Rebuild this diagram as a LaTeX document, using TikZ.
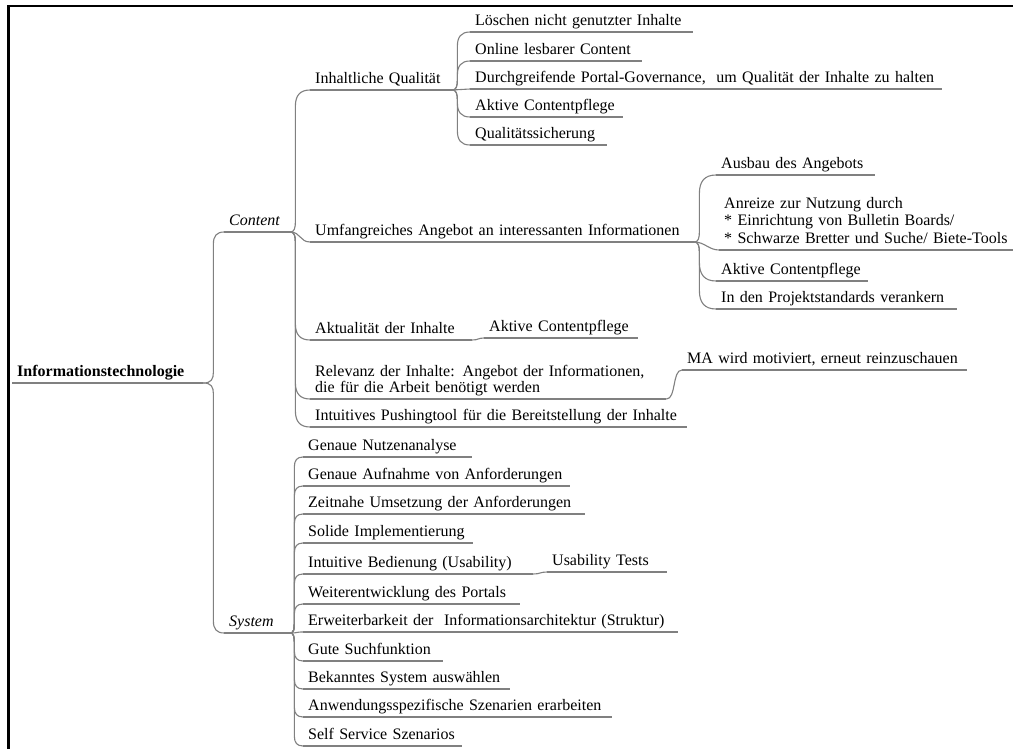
\documentclass[tikz,border=0pt]{standalone}
\usepackage{fontspec}
\setmainfont{Liberation Serif}
\usetikzlibrary{calc}
\definecolor{lineg}{RGB}{128,128,128}
\newcommand\mmfont{\fontsize{16}{18}\selectfont}
% [options]{name}{start x}{underline y}{end x}{text}
\newcommand\mmn[6][]{\pgfmathsetmacro\mmw{#5-#3-10}\node[mm,text width=\mmw pt,#1] (#2) at (#3,#4) {\mbox{#6}};}
\begin{document}
\begin{tikzpicture}[x=1pt,y=-1pt,
  mm/.style={anchor=south west,inner xsep=5pt,inner ysep=2.5pt,text depth=4pt,align=left,font=\mmfont},
  uline/.style={draw=lineg,line width=1.1pt},
  conn/.style={draw=lineg,line width=1.1pt,line cap=round},
  br/.style={to path={let \p1=(\tikztostart),\p2=(\tikztotarget),\n1={ifthenelse(\y2>\y1,1,-1)} in
     (\p1) .. controls ({\x1+0.8*#1},\y1) and ({\x1+#1},{\y1+\n1*4pt}) .. ({\x1+#1},{\y1+\n1*11pt})
     -- ({\x1+#1},{\y2-\n1*1.1*(\x2-\x1-#1)})
     .. controls ({\x1+#1},{\y2-\n1*0.4*(\x2-\x1-#1)}) and ({\x1+#1+0.3*(\x2-\x1-#1)},\y2) .. (\p2)}},
  br/.default=5pt,
  sc/.style={to path={(\tikztostart) .. controls +(#1,0) and +(-#1,0) .. (\tikztotarget)}},
  sc/.default=8,
]
\useasboundingbox (0,0) rectangle (1013,749);
\clip (0,0) rectangle (1013,749);
\fill[white] (0,0) rectangle (1013,749);

% root and main branches
\mmn[font=\mmfont\bfseries]{root}{12}{383}{203}{Informationstechnologie}
\mmn[font=\mmfont\itshape]{content}{224}{232}{290}{Content}
\mmn[font=\mmfont\itshape]{system}{224}{633}{290}{System}

% Content children
\mmn{inh}{310}{90}{452}{Inhaltliche Qualität}
\mmn{umf}{310}{242}{694}{Umfangreiches Angebot an interessanten Informationen}
\mmn{akt}{310}{340}{472}{Aktualität der Inhalte}
\node[mm,text width=346pt,text depth={},font=\fontsize{16}{15.5}\selectfont] (rel) at (310,399)
  {\mbox{Relevanz der Inhalte: Angebot der Informationen,}\\\mbox{die für die Arbeit benötigt werden}\rule[-4pt]{0pt}{4pt}};
\mmn{pus}{310}{427}{687}{Intuitives Pushingtool für die Bereitstellung der Inhalte}

% Inhaltliche Qualitaet children
\mmn{la}{470}{32}{693}{Löschen nicht genutzter Inhalte}
\mmn{lb}{470}{61}{642}{Online lesbarer Content}
\mmn{lc}{470}{89}{942}{Durchgreifende Portal-Governance,\ \ um Qualität der Inhalte zu halten}
\mmn{ld}{470}{117}{623}{Aktive Contentpflege}
\mmn{le}{470}{145}{607}{Qualitätssicherung}

% Umfangreiches Angebot children
\mmn{ua}{716}{175}{875}{Ausbau des Angebots}
\node[mm,text width=300pt,text depth={},font=\fontsize{16}{17.5}\selectfont] (ub) at (719,250)
  {\mbox{Anreize zur Nutzung durch}\\\mbox{* Einrichtung von Bulletin Boards/}\\\mbox{* Schwarze Bretter und Suche/ Biete-Tools}\rule[-4pt]{0pt}{4pt}};
\mmn{uc}{716}{281}{868}{Aktive Contentpflege}
\mmn{ud}{716}{309}{957}{In den Projektstandards verankern}

% Aktualitaet / Relevanz children
\mmn{aka}{484}{338}{638}{Aktive Contentpflege}
\mmn{mot}{682}{370}{967}{MA wird motiviert, erneut reinzuschauen}

% System children
\mmn{s1}{303}{457}{472}{Genaue Nutzenanalyse}
\mmn{s2}{303}{486}{570}{Genaue Aufnahme von Anforderungen}
\mmn{s3}{303}{514}{585}{Zeitnahe Umsetzung der Anforderungen}
\mmn{s4}{303}{543}{473}{Solide Implementierung}
\mmn{s5}{303}{574}{533}{Intuitive Bedienung (Usability)}
\mmn{s6}{303}{604}{520}{Weiterentwicklung des Portals}
\mmn{s7}{303}{632}{678}{Erweiterbarkeit der\ \ Informationsarchitektur (Struktur)}
\mmn{s8}{303}{661}{443}{Gute Suchfunktion}
\mmn{s9}{303}{689}{510}{Bekanntes System auswählen}
\mmn{s10}{303}{717}{612}{Anwendungsspezifische Szenarien erarbeiten}
\mmn{s11}{303}{746}{462}{Self Service Szenarios}
\mmn{s5a}{547}{572}{667}{Usability Tests}

% underlines
\foreach \n in {root,content,system,inh,umf,akt,rel,pus,la,lb,lc,ld,le,ua,ub,uc,ud,aka,mot,
                s1,s2,s3,s4,s5,s6,s7,s8,s9,s10,s11,s5a}
  \draw[uline] (\n.south west) -- (\n.south east);

% connectors
\draw[conn] (root.south east) to[br=10pt] (content.south west);
\draw[conn] (root.south east) to[br=10pt] (system.south west);

\draw[conn] (content.south east) to[br] (inh.south west);
\draw[conn] (content.south east) to[sc=10] (umf.south west);
\draw[conn] (content.south east) to[br] (akt.south west);
\draw[conn] (content.south east) to[br] (rel.south west);
\draw[conn] (content.south east) to[br] (pus.south west);

\draw[conn] (inh.south east) to[br] (la.south west);
\draw[conn] (inh.south east) to[br] (lb.south west);
\draw[conn] (inh.south east) to[sc] (lc.south west);
\draw[conn] (inh.south east) to[br] (ld.south west);
\draw[conn] (inh.south east) to[br] (le.south west);

\draw[conn] (umf.south east) to[br] (ua.south west);
\draw[conn] (umf.south east) to[sc=10] (ub.south west);
\draw[conn] (umf.south east) to[br] (uc.south west);
\draw[conn] (umf.south east) to[br] (ud.south west);

\draw[conn] (akt.south east) to[sc=6] (aka.south west);
\draw[conn] (rel.south east) to[sc=10] (mot.south west);

\foreach \c in {s1,s2,s3,s4,s5,s6,s8,s9,s10,s11}
  \draw[conn] (system.south east) to[br=4pt] (\c.south west);
\draw[conn] (system.south east) to[sc] (s7.south west);
\draw[conn] (s5.south east) to[sc=7] (s5a.south west);

% frame
\draw[line width=2.6pt] (8.7,749) -- (8.7,6.2) -- (1013,6.2);
\end{tikzpicture}
\end{document}
